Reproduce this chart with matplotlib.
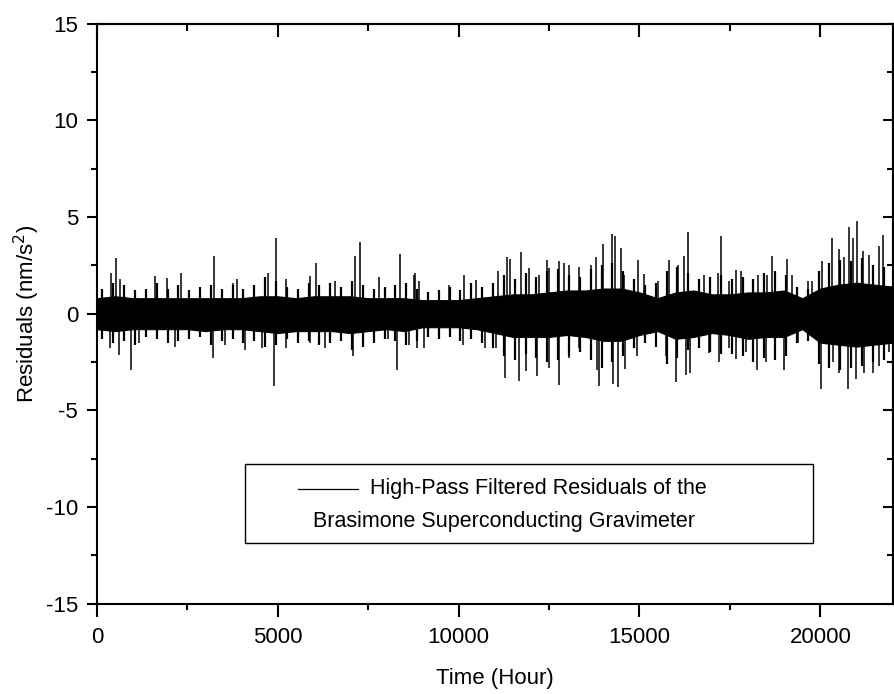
import matplotlib
matplotlib.use("Agg")
import matplotlib.pyplot as plt
from matplotlib.ticker import MultipleLocator, NullFormatter
from matplotlib.patches import Rectangle

plt.rcParams['font.family'] = ['Liberation Sans', 'DejaVu Sans']
plt.rcParams['axes.unicode_minus'] = False

# solid black core of the trace (read every 500 h)
env_t = list(range(0, 22001, 500))
core_hi = [0.8, 0.9, 0.8, 0.8, 0.8, 0.8, 0.8, 0.8, 0.8, 0.9, 0.9, 0.8, 0.9, 0.9, 0.9,
           0.8, 0.8, 0.8, 0.7, 0.7, 0.7, 0.8, 0.9, 1.0, 1.0, 1.1, 1.2, 1.2, 1.3, 1.3,
           1.1, 0.8, 1.1, 1.2, 1.0, 1.0, 1.1, 1.1, 1.2, 0.8, 1.3, 1.5, 1.6, 1.5, 1.4]
core_lo = [-0.8, -0.9, -0.8, -0.8, -0.8, -0.8, -0.9, -0.8, -0.8, -0.9, -1.0, -0.9, -0.9, -0.9, -1.0,
           -0.9, -0.8, -0.9, -0.7, -0.7, -0.7, -0.8, -1.0, -1.2, -1.2, -1.2, -1.1, -1.2, -1.4, -1.4,
           -1.1, -0.9, -1.3, -1.2, -1.0, -1.1, -1.3, -1.2, -1.2, -0.8, -1.5, -1.6, -1.7, -1.6, -1.5]

# ragged fringe around the core (read every 300 h)
fringe_t = list(range(150, 22000, 300))
fringe_up = [1.3, 1.6, 1.5, 1.2, 1.3, 1.6, 1.3, 1.5, 1.2, 1.4, 1.5, 1.3, 1.5,
             1.3, 1.5, 1.9, 1.7, 1.4, 1.3, 1.6, 1.5, 1.6, 1.4, 1.7, 1.5, 1.3, 1.4, 1.5, 1.6,
             1.3, 1.1, 1.2, 1.4, 1.2, 1.6, 1.4,
             1.6, 2.0, 1.8, 2.1, 1.9, 2.2, 2.3, 2.0,
             1.9, 2.3, 2.5, 2.6, 2.2, 1.8, 1.5, 1.6, 2.2, 2.4, 2.1, 1.8, 1.9, 2.0, 1.8,
             1.9, 1.8, 2.1, 2.2, 2.0, 1.4, 1.3, 2.2, 2.6, 2.8, 2.7, 2.9, 2.5, 2.4]
fringe_dn = [-1.3, -1.5, -1.4, -1.6, -1.2, -1.3, -1.5, -1.4, -1.3, -1.2, -1.6, -1.4, -1.3,
             -1.5, -1.4, -1.7, -1.6, -1.3, -1.5, -1.4, -1.6, -1.5, -1.4, -1.9, -1.7, -1.5, -1.3, -1.4, -1.6,
             -1.4, -1.2, -1.3, -1.2, -1.4, -1.3, -1.5,
             -1.8, -2.2, -2.4, -2.1, -2.3, -2.5, -2.4, -2.2,
             -2.0, -2.4, -2.8, -2.5, -2.2, -1.8, -1.5, -1.7, -2.6, -2.3, -1.9, -1.8, -2.0, -2.1, -2.1,
             -2.2, -2.5, -2.3, -2.4, -2.2, -1.5, -1.4, -2.6, -2.8, -2.9, -2.8, -2.7, -2.5, -2.4]

# spikes standing out of the core (time in hours, residual in nm/s^2)
up_t = [396, 525, 626, 1612, 1935, 2331, 3234, 3759, 3870, 4726, 4938, 5232, 5878, 6044,
        6569, 7140, 7279, 7794, 8366, 8752, 8780, 8900, 9729, 10144, 10484, 11083, 11332,
        11406, 11710, 11940, 12217, 12438, 12511, 12788, 12926, 13045, 13314, 13662, 13801,
        13985, 14234, 14325, 14492, 14585, 14971, 15137, 15505, 15810, 16059, 16244, 16354,
        16796, 17164, 17256, 17487, 17670, 17808, 18270, 18527, 18665, 19071, 19217, 19651,
        19770, 20047, 20315, 20527, 20665, 20785, 20914, 21015, 21191, 21357, 21633, 21724]
up_v = [2.1, 2.9, 1.8, 1.95, 1.85, 2.1, 3.0, 1.6, 1.8, 2.1, 3.9, 1.8, 1.95, 2.6,
        1.7, 3.0, 3.7, 1.9, 3.1, 2.0, 2.1, 1.7, 1.5, 2.0, 1.75, 2.2, 2.95,
        2.85, 3.2, 2.35, 2.0, 2.8, 2.35, 2.75, 2.6, 2.5, 2.4, 2.5, 2.95,
        3.6, 4.1, 4.0, 3.4, 2.0, 2.8, 2.05, 1.7, 2.8, 2.5, 3.0, 4.2,
        2.0, 2.1, 4.0, 1.7, 2.25, 2.2, 2.0, 2.0, 3.0, 2.85, 2.0, 1.7,
        1.7, 2.7, 3.9, 3.35, 2.95, 4.5, 3.9, 4.8, 3.25, 3.05, 3.5, 4.05]
dn_t = [359, 599, 930, 1152, 2147, 3206, 3528, 4081, 4570, 4900, 5232, 5878, 6292, 7076,
        8043, 8300, 8624, 8845, 9029, 10116, 10715, 11019, 11295, 11682, 11866, 12170,
        12511, 12788, 13064, 13341, 13820, 13893, 14262, 14419, 14602, 14934, 15735, 16012,
        16289, 16409, 16934, 17211, 17487, 17670, 17946, 18242, 18500, 19006, 19375, 20018,
        20343, 20509, 20757, 20988, 21219, 21448, 21633, 21910]
dn_v = [-1.8, -2.15, -2.9, -1.5, -1.7, -2.3, -1.6, -1.9, -1.8, -3.75, -1.8, -1.5, -1.8, -2.2,
        -1.3, -2.9, -1.6, -1.75, -1.8, -1.6, -1.75, -1.8, -3.3, -3.5, -2.95, -3.2,
        -2.8, -3.7, -2.3, -1.75, -2.9, -3.75, -3.65, -3.8, -2.85, -2.2, -2.2, -3.55,
        -3.15, -3.05, -2.05, -2.5, -1.75, -2.35, -2.0, -2.9, -2.5, -2.9, -1.5, -3.9,
        -2.5, -3.05, -3.9, -3.4, -3.05, -3.05, -2.7, -2.0]

x_ticks = [0, 5000, 10000, 15000, 20000]
y_ticks = [-15, -10, -5, 0, 5, 10, 15]

fig = plt.figure(figsize=(8.94, 6.94), dpi=100)
ax = fig.add_axes([0.1085, 0.13, 0.89, 0.836])

ax.fill_between(env_t, core_lo, core_hi, color='black', lw=0.8)
ax.vlines(fringe_t, 0, fringe_up, color='black', lw=1.6)
ax.vlines(fringe_t, 0, fringe_dn, color='black', lw=1.6)
ax.vlines(up_t, 0, up_v, color='black', lw=1.1)
ax.vlines(dn_t, 0, dn_v, color='black', lw=1.1)

ax.set_xlim(0, 22000)
ax.set_ylim(-15, 15)
ax.set_xticks(x_ticks)
ax.set_yticks(y_ticks)
ax.xaxis.set_minor_locator(MultipleLocator(2500))
ax.yaxis.set_minor_locator(MultipleLocator(2.5))
ax.tick_params(which='both', direction='out', top=False, right=False,
               labelsize=16, width=1.5)
ax.tick_params(axis='x', which='major', length=9, pad=8)
ax.tick_params(axis='x', which='minor', length=4.5)
ax.tick_params(axis='y', which='major', length=7.5, pad=6)
ax.tick_params(axis='y', which='minor', length=4)
for s in ax.spines.values():
    s.set_linewidth(1.5)

# inward ticks on the top and right frame
top = ax.secondary_xaxis('top')
top.set_xticks(x_ticks)
top.xaxis.set_minor_locator(MultipleLocator(2500))
top.xaxis.set_major_formatter(NullFormatter())
top.tick_params(which='both', direction='in', width=1.5)
top.tick_params(which='major', length=9)
top.tick_params(which='minor', length=5)
top.spines['top'].set_linewidth(1.5)

right = ax.secondary_yaxis('right')
right.set_yticks(y_ticks)
right.yaxis.set_minor_locator(MultipleLocator(2.5))
right.yaxis.set_major_formatter(NullFormatter())
right.tick_params(which='both', direction='in', width=1.5)
right.tick_params(which='major', length=7.5)
right.tick_params(which='minor', length=4)
right.spines['right'].set_linewidth(1.5)

ax.set_xlabel('Time (Hour)', fontsize=16, labelpad=14)
ax.set_ylabel('Residuals (nm/s$^2$)', fontsize=16, labelpad=3)

# legend box
ax.add_patch(Rectangle((0.186, 0.105), 0.714, 0.136, transform=ax.transAxes,
                       fill=False, edgecolor='black', lw=1.0))
ax.plot([0.2525, 0.328], [0.198, 0.198], transform=ax.transAxes, color='black', lw=0.9)
ax.text(0.343, 0.198, 'High-Pass Filtered Residuals of the', transform=ax.transAxes,
        fontsize=15.5, va='center', ha='left')
ax.text(0.512, 0.142, 'Brasimone Superconducting Gravimeter', transform=ax.transAxes,
        fontsize=15.5, va='center', ha='center')

fig.savefig('out.png', dpi=100)
